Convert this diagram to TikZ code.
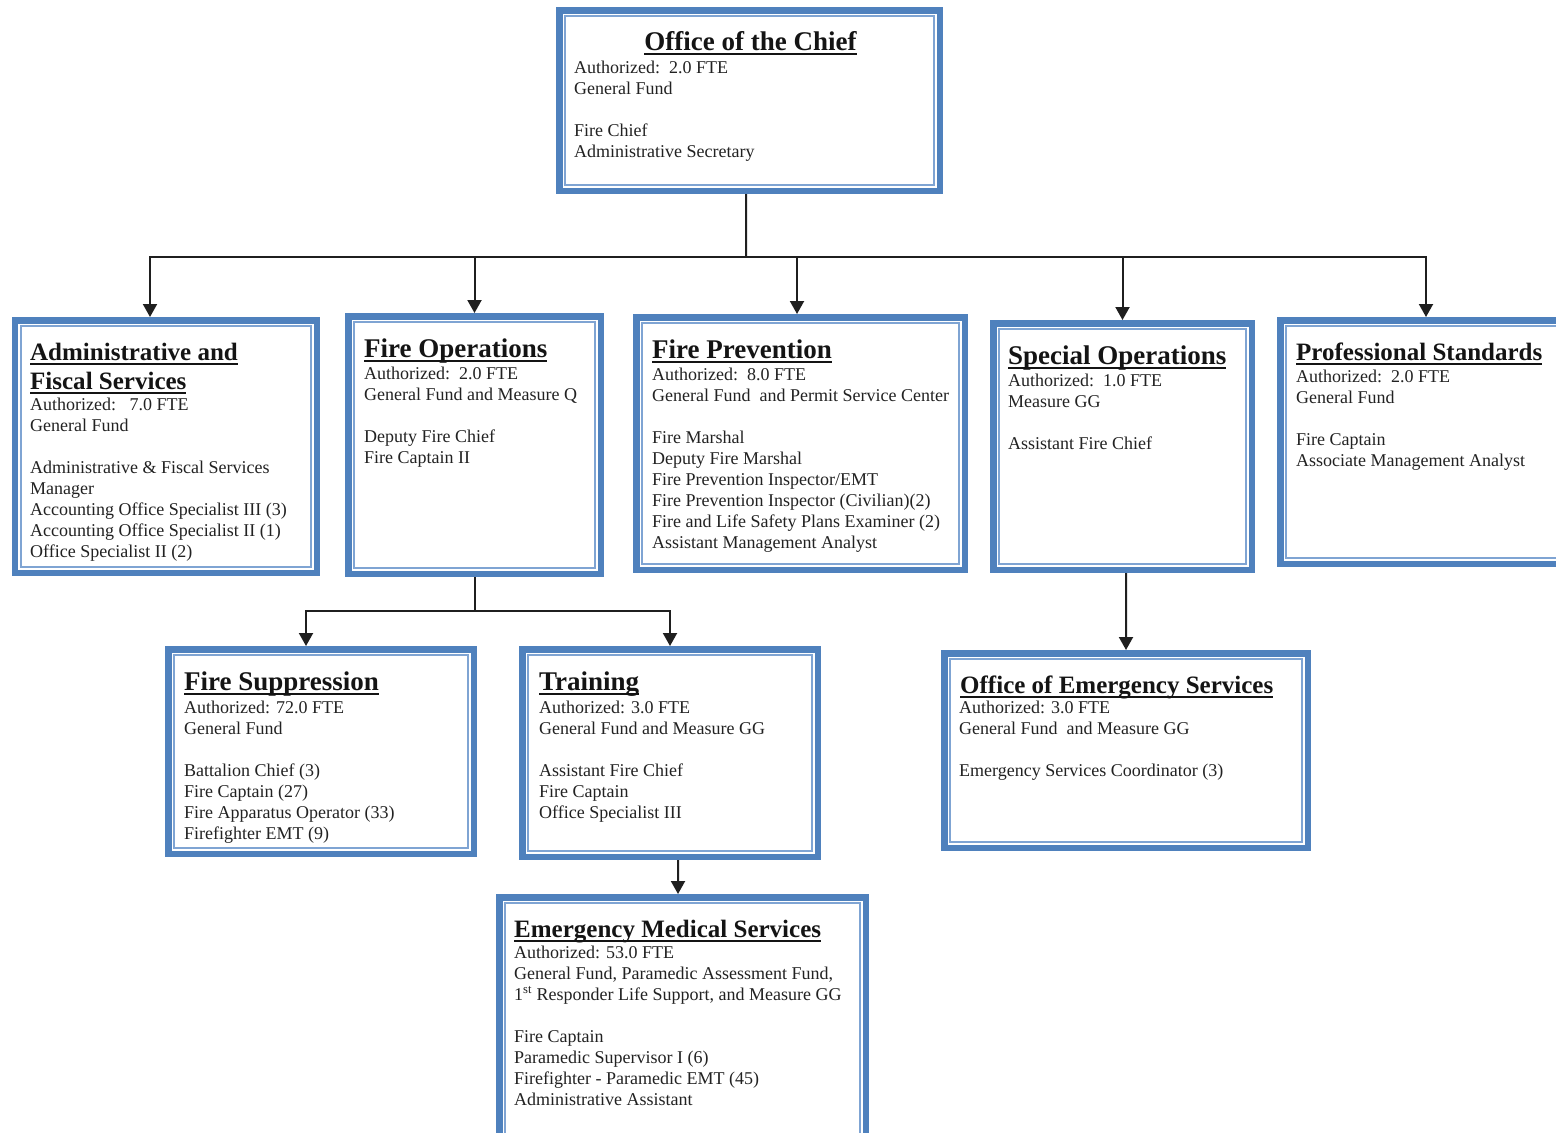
\documentclass[tikz,border=0pt]{standalone}
\usepackage{fontspec}
\setmainfont{Liberation Serif}
\usetikzlibrary{arrows.meta}

\definecolor{frameblue}{HTML}{4F81BD}
\definecolor{frameinner}{HTML}{7FA4D3}
\definecolor{inktext}{HTML}{222222}

% heading underline: a 2bp rule set 3bp below the baseline
\newsavebox{\ulbarbox}
\newcommand{\ulbar}[1]{\sbox{\ulbarbox}{#1}%
  \rlap{\vrule width\wd\ulbarbox height -3bp depth 5bp}\usebox{\ulbarbox}}

\newcommand{\bodysize}{\fontsize{18bp}{21bp}\selectfont}
\newcommand{\headbig}{\fontsize{27bp}{29bp}\selectfont\bfseries}
\newcommand{\headsmall}{\fontsize{25bp}{29bp}\selectfont\bfseries}

\tikzset{
  unit/.style={draw=frameblue, line width=6.5bp, fill=white, inner sep=0pt,
    outer sep=3.25bp, rectangle},
  unitinner/.style={draw=frameinner, line width=1.6bp},
  head/.style={anchor=base west, inner sep=0pt, text=black!92, font=\headbig},
  headsm/.style={head, font=\headsmall},
  body/.style={anchor=base west, inner sep=0pt, text=inktext, font=\bodysize},
  conn/.style={draw=black!88, line width=2bp},
  arr/.style={conn, -{Triangle[width=14bp,length=13bp]}}
}

% framed unit: name, left, top, right, bottom (outer edge of the frame)
\newcommand{\unitbox}[5]{%
  \node[unit, minimum width={(#4-#2-6.5)*1.00375pt}, minimum height={(#5-#3-6.5)*1.00375pt}]
    (#1) at ({(#2+#4)/2},{(#3+#5)/2}) {};
  \draw[unitinner] ([xshift=9bp,yshift=-9bp]#1.north west)
    rectangle ([xshift=-9bp,yshift=9bp]#1.south east);
}

\begin{document}
\begin{tikzpicture}[x=1bp,y=-1bp]
\clip (0,0) rectangle (1556,1132);
\fill[white] (0,0) rectangle (1556,1132);

% ---------- frames ----------
\unitbox{chief}{556}{7}{943}{194}
\unitbox{admin}{12}{317}{320}{576}
\unitbox{fireops}{345}{313}{604}{577}
\unitbox{prevention}{633}{314}{968}{573}
\unitbox{specops}{990}{320}{1255}{573}
\unitbox{profstd}{1277}{317}{1575}{567}
\unitbox{suppression}{165}{646}{477}{857}
\unitbox{training}{519}{646}{821}{860}
\unitbox{oes}{941}{650}{1311}{851}
\unitbox{ems}{496}{894}{869}{1150}

% ---------- connectors ----------
\coordinate (bus) at (746,257);
\draw[conn] ([xshift=-3.5bp]chief.south) -- (bus);
\draw[arr] (bus) -| ([xshift=-16bp]admin.north);
\draw[arr] (bus) -| (fireops.north);
\draw[arr] (bus) -| ([xshift=-3.5bp]prevention.north);
\draw[arr] (bus) -| (specops.north);
\draw[arr] (bus) -| (profstd.north);

\coordinate (opsbus) at (474.5,611);
\draw[conn] (fireops.south) -- (opsbus);
\draw[arr] (opsbus) -| ([xshift=-15bp]suppression.north);
\draw[arr] (opsbus) -| (training.north);

\draw[arr] ([xshift=8bp]training.south) -- ([xshift=-4.5bp]ems.north);
\draw[arr] ([xshift=3.5bp]specops.south) -- (oes.north);

% ---------- Office of the Chief ----------
\node[head, anchor=base] (chiefT) at (750.5,50) {\ulbar{Office of the Chief}};
\node[body] (chiefB) at (574,73) {\begin{tabular}[t]{@{}l@{}}
Authorized:\ \ 2.0 FTE\\ General Fund\\ \\ Fire Chief\\ Administrative Secretary
\end{tabular}};

% ---------- Administrative and Fiscal Services ----------
\node[headsm] (adminT) at (30,360) {\begin{tabular}[t]{@{}l@{}}
\ulbar{Administrative and}\\ \ulbar{Fiscal Services}
\end{tabular}};
\node[body] (adminB) at (30,410) {\begin{tabular}[t]{@{}l@{}}
Authorized:\ \ \ 7.0 FTE\\ General Fund\\ \\ Administrative \& Fiscal Services\\ Manager\\
Accounting Office Specialist III (3)\\ Accounting Office Specialist II (1)\\ Office Specialist II (2)
\end{tabular}};

% ---------- Fire Operations ----------
\node[head] (fireopsT) at (364,357) {\ulbar{Fire Operations}};
\node[body] (fireopsB) at (364,379) {\begin{tabular}[t]{@{}l@{}}
Authorized:\ \ 2.0 FTE\\ General Fund and Measure Q\\ \\ Deputy Fire Chief\\ Fire Captain II
\end{tabular}};

% ---------- Fire Prevention ----------
\node[head] (preventionT) at (652,358) {\ulbar{Fire Prevention}};
\node[body] (preventionB) at (652,380) {\begin{tabular}[t]{@{}l@{}}
Authorized:\ \ 8.0 FTE\\ General Fund\ \ and Permit Service Center\\ \\ Fire Marshal\\
Deputy Fire Marshal\\ Fire Prevention Inspector/EMT\\ Fire Prevention Inspector (Civilian)(2)\\
Fire and Life Safety Plans Examiner (2)\\ Assistant Management Analyst
\end{tabular}};

% ---------- Special Operations ----------
\node[head] (specopsT) at (1008,364) {\ulbar{Special Operations}};
\node[body] (specopsB) at (1008,386) {\begin{tabular}[t]{@{}l@{}}
Authorized:\ \ 1.0 FTE\\ Measure GG\\ \\ Assistant Fire Chief
\end{tabular}};

% ---------- Professional Standards ----------
\node[headsm] (profstdT) at (1296,360) {\ulbar{Professional Standards}};
\node[body] (profstdB) at (1296,382) {\begin{tabular}[t]{@{}l@{}}
Authorized:\ \ 2.0 FTE\\ General Fund\\ \\ Fire Captain\\ Associate Management Analyst
\end{tabular}};

% ---------- Fire Suppression ----------
\node[head] (suppressionT) at (184,690) {\ulbar{Fire Suppression}};
\node[body] (suppressionB) at (184,713) {\begin{tabular}[t]{@{}l@{}}
Authorized: 72.0 FTE\\ General Fund\\ \\ Battalion Chief (3)\\ Fire Captain (27)\\
Fire Apparatus Operator (33)\\ Firefighter EMT (9)
\end{tabular}};

% ---------- Training ----------
\node[head] (trainingT) at (539,690) {\ulbar{Training}};
\node[body] (trainingB) at (539,713) {\begin{tabular}[t]{@{}l@{}}
Authorized: 3.0 FTE\\ General Fund and Measure GG\\ \\ Assistant Fire Chief\\ Fire Captain\\
Office Specialist III
\end{tabular}};

% ---------- Office of Emergency Services ----------
\node[headsm] (oesT) at (960,693) {\ulbar{Office of Emergency Services}};
\node[body] (oesB) at (959,713) {\begin{tabular}[t]{@{}l@{}}
Authorized: 3.0 FTE\\ General Fund\ \ and Measure GG\\ \\ Emergency Services Coordinator (3)
\end{tabular}};

% ---------- Emergency Medical Services ----------
\node[headsm] (emsT) at (514,937) {\ulbar{Emergency Medical Services}};
\node[body] (emsB) at (514,958) {\begin{tabular}[t]{@{}l@{}}
Authorized: 53.0 FTE\\ General Fund, Paramedic Assessment Fund,\\
1\textsuperscript{st} Responder Life Support, and Measure GG\\ \\ Fire Captain\\
Paramedic Supervisor I (6)\\ Firefighter - Paramedic EMT (45)\\ Administrative Assistant
\end{tabular}};
\end{tikzpicture}
\end{document}
